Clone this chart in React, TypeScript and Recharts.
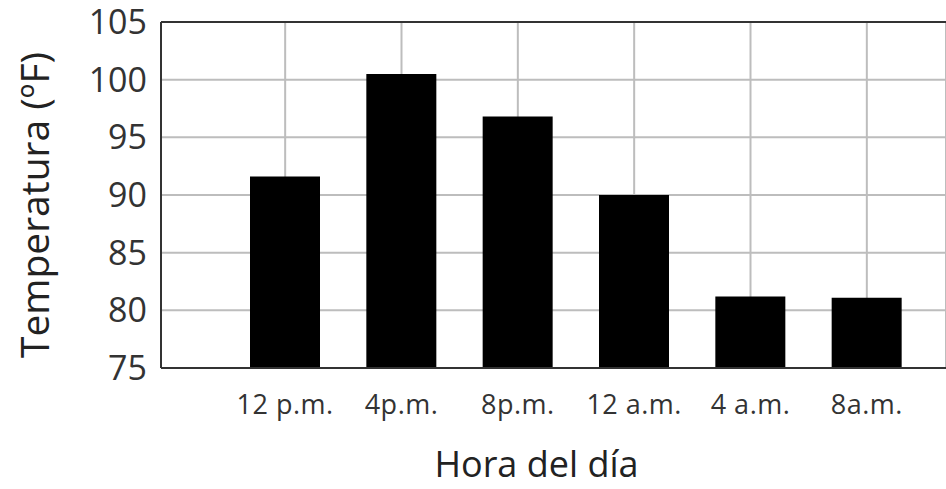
import React from 'react';
import { BarChart, Bar, XAxis, YAxis, CartesianGrid, ReferenceLine } from 'recharts';

const horas = ['12 p.m.', '4p.m.', '8p.m.', '12 a.m.', '4 a.m.', '8a.m.'];
const temperaturas = [91.6, 100.5, 96.8, 90, 81.2, 81.1];
const yTicks = [75, 80, 85, 90, 95, 100, 105];

const data = horas.map((hora, i) => ({ hora, temp: temperaturas[i] }));

const font = '"Open Sans", sans-serif';

export default function App() {
  return (
    <div style={{ position: 'absolute', left: 0, top: 0, background: '#fff' }}>
      <BarChart
        width={946}
        height={489}
        data={data}
        margin={{ top: 22, right: 0, left: 0, bottom: 0 }}
        barSize={70}
      >
        <CartesianGrid stroke="#bdbdbd" strokeWidth={2} />
        <XAxis
          dataKey="hora"
          height={121}
          padding={{ left: 66, right: 21 }}
          axisLine={{ stroke: '#333', strokeWidth: 2 }}
          tickLine={false}
          tickMargin={21}
          tick={{ fill: '#333', fontSize: 27, fontFamily: font, letterSpacing: 0.5 }}
          label={{
            value: 'Hora del día',
            position: 'insideBottom',
            offset: 12,
            dx: -17,
            style: { fill: '#222', fontSize: 36, fontFamily: font },
          }}
        />
        <YAxis
          width={161}
          domain={[75, 105]}
          ticks={yTicks}
          interval={0}
          axisLine={{ stroke: '#333', strokeWidth: 2 }}
          tickLine={false}
          tickMargin={8}
          tick={{ fill: '#333', fontSize: 34, fontFamily: font }}
          label={{
            content: () => (
              <text
                x={33}
                y={205}
                transform="rotate(-90 33 205)"
                textAnchor="middle"
                dominantBaseline="central"
                fill="#222"
                fontSize={39}
                fontFamily={font}
              >
                Temperatura (ºF)
              </text>
            ),
          }}
        />
        <ReferenceLine y={105} stroke="#333" strokeWidth={2} />
        <Bar dataKey="temp" fill="#000" isAnimationActive={false} />
      </BarChart>
    </div>
  );
}
